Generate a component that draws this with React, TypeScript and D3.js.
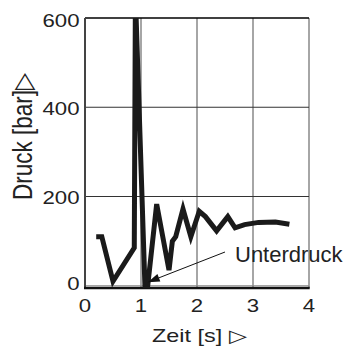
import React from "react";
import * as d3 from "d3";

const timeS = [0.2, 0.3, 0.5, 0.88, 0.9, 1.07, 1.12, 1.28, 1.5, 1.56, 1.62, 1.75, 1.89, 2.04, 2.15, 2.35, 2.55, 2.68, 2.85, 3.1, 3.4, 3.65];
const pressureBar = [110, 110, 10, 85, 650, 0, 0, 183, 35, 100, 110, 172, 110, 167, 155, 123, 155, 130, 137, 142, 143, 138];
const xTicks = [0, 1, 2, 3, 4];
const yTicks = [0, 200, 400, 600];
const xTitle = "Zeit [s] \u25B7";
const yTitle = "Druck [bar]\u25B7";
const annotationText = "Unterdruck";
const annotationTarget = [1.12, 8];

export default function App() {
  const W = 350, H = 347;
  const left = 85, right = 309, top = 18, bottom = 288;
  const x = d3.scaleLinear().domain([0, 4]).range([left, right]);
  const y = d3.scaleLinear().domain([-5, 600]).range([bottom, top]);
  const pts = timeS.map((t, i) => [t, pressureBar[i]] as [number, number]);
  const line = d3.line<[number, number]>().x(d => x(d[0])).y(d => y(d[1]));
  const font = "'Liberation Sans', Arial, Helvetica, sans-serif";
  const ax = x(annotationTarget[0]), ay = y(annotationTarget[1]);
  const sx = 225, sy = 252;
  const ang = Math.atan2(ay - sy, ax - sx);
  const hl = 12, hw = 4;
  const hx = ax - hl * Math.cos(ang), hy = ay - hl * Math.sin(ang);
  const px = -Math.sin(ang) * hw, py = Math.cos(ang) * hw;
  return (
    <div style={{ position: "absolute", left: 0, top: 0 }}>
      <svg width={W} height={H} viewBox={`0 0 ${W} ${H}`} style={{ display: "block", background: "#fff" }}>
        <defs>
          <clipPath id="plot">
            <rect x={left} y={top} width={right - left} height={bottom - top} />
          </clipPath>
        </defs>
        {/* vertical gridlines */}
        {xTicks.slice(1).map(t => (
          <line key={"vx" + t} x1={x(t)} x2={x(t)} y1={top} y2={bottom} stroke="#808080" strokeWidth={1.4} />
        ))}
        {/* horizontal gridlines */}
        {yTicks.filter(v => v > 0 && v < 600).map(v => (
          <line key={"hy" + v} x1={left} x2={right} y1={y(v)} y2={y(v)} stroke="#333" strokeWidth={1.1} />
        ))}
        <line x1={left} x2={right} y1={y(0)} y2={y(0)} stroke="#888" strokeWidth={1.2} />
        {/* frame */}
        <line x1={left} x2={right} y1={top} y2={top} stroke="#000" strokeWidth={1.3} />
        <line x1={left} x2={left} y1={top} y2={bottom} stroke="#444" strokeWidth={2} />
        <line x1={left - 1} x2={right + 0.7} y1={bottom} y2={bottom} stroke="#111" strokeWidth={2.4} />
        {/* data */}
        <path d={line(pts) || ""} fill="none" stroke="#1a1a1a" strokeWidth={5} strokeLinejoin="miter" strokeMiterlimit={4} clipPath="url(#plot)" />
        {/* annotation */}
        <line x1={sx} y1={sy} x2={hx} y2={hy} stroke="#111" strokeWidth={1} />
        <path d={`M${ax},${ay}L${hx + px},${hy + py}L${hx - px},${hy - py}Z`} fill="#111" />
        <text x={235} y={262} fontFamily={font} fontSize={22} fill="#222">{annotationText}</text>
        {/* y tick labels */}
        {yTicks.map(v => (
          <text key={"yl" + v} transform={`translate(79.5,${y(v) + (v === 600 ? 3 : v === 0 ? -2 : 1.5)}) scale(1.2,1)`} textAnchor="end" dominantBaseline="central" fontFamily={font} fontSize={18.5} fill="#222">{v}</text>
        ))}
        {/* x tick labels */}
        {xTicks.map(t => (
          <text key={"xl" + t} transform={`translate(${x(t)},312) scale(1.2,1)`} textAnchor="middle" fontFamily={font} fontSize={18.5} fill="#222">{t}</text>
        ))}
        {/* titles */}
        <text transform={`translate(152,342) scale(1.3,1)`} fontFamily={font} fontSize={18} fill="#222">{xTitle}</text>
        <text transform={`translate(31.5,200) rotate(-90) scale(1,1.22)`} fontFamily={font} fontSize={22.5} fill="#222">{yTitle}</text>
      </svg>
    </div>
  );
}
